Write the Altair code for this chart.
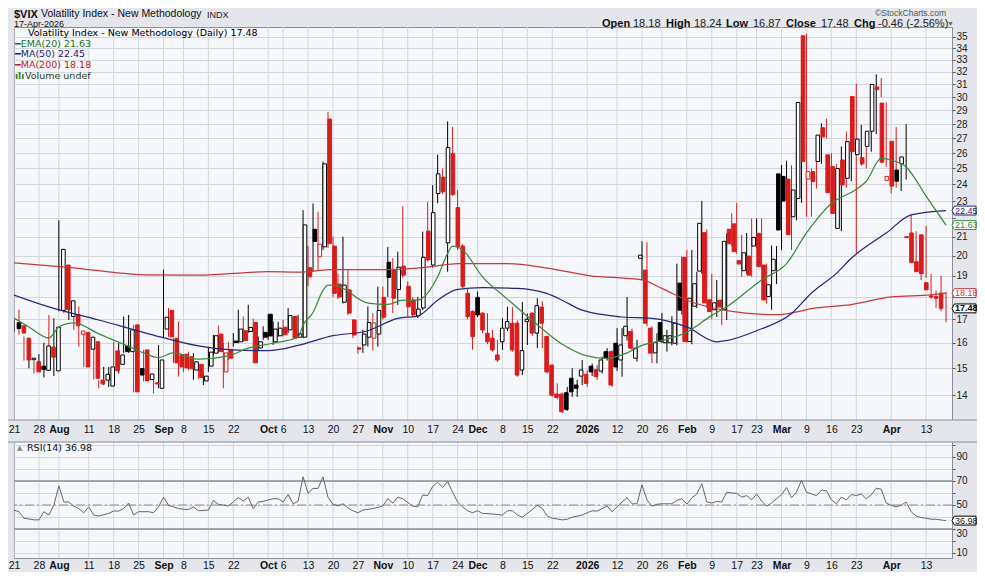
import altair as alt
import pandas as pd

# ---------------- data (daily OHLC, session index 0 = 21 Jul 2025) ----------------
OPEN = [16.85,16.72,16.20,15.33,15.25,15.08,14.92,15.83,14.90,17.39,
        19.53,17.12,17.19,16.36,16.44,15.75,16.05,14.55,14.55,14.33,
        15.68,15.15,15.88,15.65,16.76,14.99,15.72,14.57,14.45,14.25,
        16.58,17.39,16.19,15.52,15.55,15.45,14.93,15.15,14.52,15.08,
        15.59,16.37,14.86,15.72,16.08,16.05,16.51,16.48,16.86,15.80,
        16.44,17.22,16.05,16.30,16.66,16.55,17.12,16.24,16.24,19.40,
        21.40,19.95,20.46,28.37,20.50,18.60,17.76,18.33,16.97,15.80,
        15.92,16.24,16.20,16.37,17.98,19.67,19.28,18.34,19.48,18.50,
        17.86,17.15,17.50,21.30,19.53,23.45,24.45,20.67,25.96,22.62,
        20.50,18.17,17.34,17.98,17.27,16.40,16.20,15.52,16.05,16.62,
        16.83,16.83,14.93,16.90,17.27,16.41,17.54,16.27,15.12,14.04,
        14.04,14.09,14.62,14.37,14.70,14.77,15.08,14.95,14.89,15.65,
        15.65,15.99,15.32,16.30,16.48,15.39,19.87,19.28,16.62,15.60,
        16.86,16.01,16.01,15.99,18.65,19.92,16.06,17.58,19.23,21.22,
        17.87,17.42,17.85,17.42,21.40,21.70,19.75,19.25,19.98,20.50,
        21.18,19.53,18.02,19.25,24.66,24.50,24.33,22.10,23.16,35.10,
        24.33,24.80,25.45,27.75,25.89,25.12,21.45,25.55,24.38,30.05,
        25.90,25.70,26.45,27.50,30.80,29.55,24.25,26.80,24.90,25.30,
        21.00,21.20,19.70,21.10,18.67,18.05,18.02,18.18]
HIGH = [17.00,17.42,16.27,15.50,15.30,15.55,16.01,17.19,17.05,21.90,
        19.55,18.88,17.64,17.57,16.44,16.41,16.05,14.55,15.05,15.05,
        16.05,15.99,17.12,17.19,16.76,15.85,15.72,14.86,14.62,15.92,
        19.30,17.50,16.20,16.90,15.55,15.65,15.59,15.20,14.80,15.85,
        16.34,16.73,16.01,16.05,16.41,17.42,17.12,17.64,17.03,16.27,
        16.70,17.22,16.90,16.90,16.97,17.50,17.12,17.19,22.47,20.50,
        22.86,22.38,25.45,28.90,21.00,19.10,21.00,19.28,17.00,15.87,
        16.55,17.57,17.27,18.48,18.48,20.46,19.87,20.21,22.70,18.73,
        18.00,18.00,21.27,22.96,23.96,25.90,25.00,28.20,27.80,23.66,
        20.60,18.40,17.40,18.25,17.30,17.27,16.55,16.13,17.04,17.55,
        17.55,16.95,17.77,17.25,17.30,17.94,17.80,16.30,15.15,14.43,
        14.10,14.30,15.00,14.56,15.32,14.92,15.18,15.12,15.45,15.79,
        15.70,16.62,16.62,18.00,16.60,16.13,20.75,20.70,16.70,16.40,
        17.28,16.55,17.14,19.60,19.95,20.30,20.30,19.20,23.00,21.40,
        19.10,18.80,17.90,21.18,22.30,22.90,21.10,21.20,22.00,22.00,
        22.00,19.60,20.53,20.50,25.23,25.50,25.20,26.20,30.10,35.30,
        25.00,26.20,28.07,28.40,26.00,25.30,26.45,27.48,27.12,31.05,
        27.95,26.60,28.40,31.80,31.50,29.60,25.30,27.80,25.30,28.00,
        22.20,21.30,19.90,21.60,19.10,18.30,19.00,18.24]
LOW = [16.45,16.34,15.30,15.00,14.80,14.93,14.65,15.42,14.70,17.35,
       17.27,16.97,16.55,15.85,15.05,15.45,14.57,14.25,14.37,14.30,
       14.86,14.80,15.60,15.60,14.10,14.19,14.50,14.55,14.06,14.25,
       16.25,16.25,15.20,14.68,14.86,14.93,14.56,14.60,14.37,14.86,
       15.52,15.61,14.25,15.32,15.85,15.99,16.05,16.41,15.19,15.69,
       16.13,16.13,15.92,16.25,16.27,16.41,16.16,16.20,16.20,18.50,
       19.20,19.28,20.30,20.40,18.00,17.90,17.70,17.20,16.20,15.57,
       15.60,15.85,15.70,15.85,17.00,18.00,17.27,17.63,18.90,17.12,
       17.10,17.05,17.40,19.70,19.40,22.87,23.40,19.20,23.30,20.30,
       18.40,17.00,15.73,17.10,16.40,15.95,15.65,15.25,15.72,16.50,
       15.65,14.68,14.74,15.92,16.30,15.79,15.79,14.80,13.95,13.85,
       13.38,13.45,13.94,13.94,14.37,14.30,14.70,14.56,14.80,15.30,
       14.30,14.90,14.68,16.10,15.70,15.26,18.80,16.70,15.19,15.19,
       16.00,15.65,15.90,15.90,17.20,16.00,15.95,17.50,19.10,17.50,
       17.00,17.10,16.76,16.97,20.50,20.10,18.95,19.10,18.95,20.40,
       19.40,17.70,17.42,18.60,20.30,22.00,20.30,21.90,22.90,22.10,
       22.10,23.75,25.30,27.00,23.30,22.00,21.30,23.80,24.20,20.10,
       25.20,25.00,26.10,27.30,30.00,25.10,23.45,23.80,23.60,24.30,
       19.80,19.40,18.80,18.90,17.90,17.50,17.35,16.87]
CLOSE = [16.60,16.41,15.32,15.39,14.86,14.95,15.88,15.43,16.66,20.33,
         17.42,17.82,16.72,16.50,15.05,16.24,14.62,14.41,14.77,15.05,
         14.90,15.52,15.65,16.55,14.12,14.74,14.52,14.78,14.41,15.32,
         17.09,16.25,15.21,15.05,15.01,14.98,15.25,14.65,14.70,15.63,
         16.30,15.65,15.60,15.39,16.02,16.58,16.10,16.65,15.21,16.05,
         16.24,16.29,16.58,16.62,16.34,17.16,16.20,16.38,21.64,18.95,
         20.74,20.60,25.30,20.63,18.17,18.00,18.55,17.27,16.33,15.75,
         16.37,16.86,16.84,17.39,17.09,18.92,17.94,19.42,19.03,17.55,
         17.19,17.45,19.92,19.79,22.33,24.66,23.55,26.37,23.39,20.46,
         18.50,17.12,16.26,17.19,16.54,16.05,15.72,15.32,16.62,16.90,
         15.72,14.74,15.69,17.00,16.41,17.60,16.83,14.86,14.00,13.92,
         13.42,13.50,14.12,14.25,14.93,14.43,14.86,14.68,15.32,15.39,
         14.37,15.05,15.92,16.70,15.79,15.79,20.03,16.83,15.59,16.01,
         16.06,16.30,16.30,16.83,17.40,16.06,17.94,18.62,21.73,17.73,
         17.34,17.73,17.54,20.75,20.62,20.21,19.58,20.15,19.03,20.96,
         19.45,17.86,18.57,19.82,21.36,23.00,21.10,23.66,29.60,25.45,
         24.80,24.17,27.23,27.10,23.50,22.28,25.00,23.97,26.78,26.10,
         26.95,25.30,27.50,31.00,30.60,25.40,24.50,23.90,24.20,25.75,
         20.95,19.65,19.20,19.10,18.33,18.00,17.94,17.48]
PRIOR_CLOSE = 16.40

EMA20 = [(0,17.06),(3,16.67),(7,16.21),(9,16.67),(12,16.84),(17,16.38),(23,15.86),(26,15.60),
         (29,15.41),(32,15.60),(37,15.35),(43,15.48),(47,15.79),(52,15.99),(57,16.25),(58,16.75),
         (60,17.30),(62,18.30),(63,18.55),(65,18.50),(71,17.72),(75,17.66),(78,17.85),(81,17.85),
         (82,17.95),(85,18.95),(87,20.12),(88,20.50),(90,20.30),(94,18.95),(99,17.90),(104,16.95),
         (110,15.95),(115,15.48),(119,15.38),(123,15.60),(126,15.90),(130,16.10),(135,16.45),
         (140,17.17),(143,17.55),(150,18.80),(155,19.60),(159,21.20),(164,22.86),(169,23.70),
         (171,24.20),(174,25.65),(176,25.55),(179,25.10),(183,23.30),(187,21.63)]
MA50 = [(0,18.09),(7,17.55),(17,16.97),(27,16.38),(37,15.88),(44,15.72),(51,15.69),(57,15.90),
        (64,16.30),(71,16.51),(77,17.04),(81,17.14),(85,17.85),(89,18.35),(94,18.43),(101,18.40),
        (107,18.15),(110,17.85),(114,17.40),(122,17.10),(128,17.04),(135,16.67),(141,16.05),
        (143,16.10),(149,16.51),(156,17.25),(160,18.18),(165,19.12),(168,19.87),(175,21.20),
        (180,22.20),(187,22.45)]
MA200 = [(0,19.64),(11,19.42),(26,19.05),(37,19.03),(51,19.20),(57,19.18),(64,19.30),(74,19.30),
         (84,19.46),(89,19.60),(99,19.60),(107,19.38),(116,18.99),(121,18.91),(126,18.80),
         (130,18.40),(135,17.85),(144,17.35),(153,17.20),(161,17.50),(168,17.65),(176,18.00),
         (184,18.10),(187,18.18)]
RSI14 = [(0,45.7),(1,44.4),(2,39.0),(4,37.6),(5,37.6),(6,44.4),(7,41.6),(8,49.8),(9,66.0),(10,52.5),
         (11,52.5),(12,49.0),(13,47.0),(14,43.5),(15,48.4),(16,41.6),(17,40.8),(19,43.0),(20,45.0),(21,44.9),
         (22,47.0),(23,51.6),(24,41.6),(25,44.4),(27,44.4),(28,43.5),(29,48.4),(30,56.5),(31,49.8),(33,47.0),
         (34,46.5),(35,46.2),(36,48.4),(37,45.2),(39,45.7),(40,53.8),(41,50.6),(43,49.2),(44,52.5),(45,56.0),
         (46,53.3),(47,56.5),(48,47.0),(49,52.5),(50,53.0),(52,55.2),(53,55.2),(54,52.5),(55,58.7),(56,51.0),
         (57,53.0),(58,73.5),(59,59.7),(60,63.8),(61,63.8),(62,73.5),(63,56.5),(64,50.6),(65,49.2),(66,51.0),
         (67,47.6),(68,45.2),(69,43.5),(70,45.7),(72,47.0),(73,47.9),(74,49.2),(75,55.2),(76,51.6),(77,56.5),
         (78,55.2),(80,49.0),(81,48.4),(82,58.4),(83,57.8),(84,65.4),(85,69.0),(86,64.6),(87,69.5),(88,60.6),
         (89,52.5),(90,48.4),(91,45.2),(92,43.5),(93,45.2),(94,43.0),(96,42.5),(98,41.6),(99,45.2),(100,45.2),
         (101,41.6),(102,39.8),(103,43.0),(104,46.2),(105,49.8),(106,47.0),(107,40.8),(108,39.0),(110,37.6),(111,38.1),
         (112,39.8),(114,41.6),(115,43.5),(116,45.2),(117,44.9),(118,47.0),(119,49.0),(120,44.4),(121,48.4),(122,52.5),
         (123,56.0),(124,51.0),(125,51.0),(126,66.8),(127,54.3),(128,49.0),(129,50.6),(130,51.0),(132,51.0),(133,53.8),
         (134,55.2),(135,50.6),(136,56.0),(137,59.2),(138,67.8),(139,52.5),(140,51.6),(141,53.0),(142,52.5),(143,60.6),
         (144,60.0),(145,59.7),(146,56.5),(147,57.8),(148,54.3),(149,59.2),(150,53.3),(151,49.0),(152,51.6),(153,55.2),
         (154,58.7),(155,64.6),(156,56.0),(157,60.6),(158,70.5),(159,60.6),(160,59.2),(161,57.8),(162,62.4),(163,61.9),
         (164,54.3),(165,51.0),(166,56.5),(167,54.3),(168,58.7),(169,57.8),(170,59.2),(171,55.2),(172,58.4),(173,64.0),
         (174,63.2),(175,51.6),(176,49.8),(177,48.4),(178,49.8),(179,52.5),(180,44.4),(181,40.8),(182,39.5),(183,39.0),
         (184,38.1),(185,38.1),(186,37.5),(187,36.98)]

TICK_DAY = [0,5,9,15,20,25,30,34,39,44,51,54,59,64,69,74,79,84,89,93,98,103,108,115,121,126,130,
            135,140,145,149,154,159,164,169,176,183]
TICK_LABEL = ["21","28","Aug","11","18","25","Sep","8","15","22","Oct","6","13","20","27","Nov","10",
              "17","24","Dec","8","15","22","2026","12","20","26","Feb","9","17","23","Mar","9","16",
              "23","Apr","13"]
MONTH_LABELS = ["Aug","Sep","Oct","Nov","Dec","2026","Feb","Mar","Apr"]
PRICE_TICKS = list(range(14, 36))
PRICE_HIDDEN = [18, 22]
RSI_TICKS = list(range(10, 101, 10))
RSI_LEVELS = [30, 70]
RSI_MID = [50]

LAST_EMA, LAST_MA50, LAST_MA200, LAST_CLOSE, LAST_RSI = 21.63, 22.45, 18.18, 17.48, 36.98
QUOTE = [("Open", "18.18"), ("High", "18.24"), ("Low", "16.87"), ("Close", "17.48"), ("Chg", "-0.46 (-2.56%)")]

# ---------------- styling / layout ----------------
W, HM, GAP, HR = 938, 393, 22, 116          # price panel, date band, RSI panel (pixels)
H = HM + GAP + HR
BG, PLOT_BG, GRID, FRAME = "#e4e6eb", "#f6f7fa", "#d3d6dd", "#8a8e98"
RED, BLACK = "#d81c1c", "#000000"
C_EMA, C_MA50, C_MA200 = "#3c8a3c", "#26267c", "#c43a3a"
T_EMA, T_MA50, T_MA200 = "#267326", "#1d1d6b", "#c02222"
AXF, LGF = "Liberation Sans", "DejaVu Sans"
TAG_PATH = "M-1,0L-0.8,-0.37L1,-0.37L1,0.37L-0.8,0.37Z"
TAG_SIZE = 576
TAG_X = W + 12

xs = alt.Scale(domain=[0, 188.2], nice=False, zero=False)
ys = alt.Scale(type="log", domain=[13.14, 35.9], range=[HM, 0], nice=False)
rs = alt.Scale(domain=[5.8, 102.5], range=[H, HM + GAP], nice=False, zero=False)

tick_arr = "[" + ",".join(map(str, TICK_DAY)) + "]"
lab_arr = "[" + ",".join("'%s'" % s for s in TICK_LABEL) + "]"
month_arr = "[" + ",".join(str(d) for d, s in zip(TICK_DAY, TICK_LABEL) if s in MONTH_LABELS) + "]"


def date_axis(pad, offset, z):
    return alt.Axis(values=TICK_DAY, labelExpr=f"{lab_arr}[indexof({tick_arr}, datum.value)]",
                    orient="bottom", offset=offset, zindex=z,
                    grid=False, ticks=False, domain=False, title=None,
                    labelFont=AXF, labelFontSize=10.5, labelColor="#111",
                    labelFontWeight={"condition": {"test": f"indexof({month_arr}, datum.value) >= 0",
                                                   "value": "bold"}, "value": "normal"},
                    labelPadding=pad, labelOverlap=False, labelFlush=False, labelBound=False)


hidden = " || ".join(f"datum.value == {v}" for v in PRICE_HIDDEN)
yaxis = alt.Axis(orient="right", values=PRICE_TICKS, labelExpr=f"({hidden}) ? '' : datum.label",
                 format="d", grid=True, gridColor=GRID, tickSize=3, tickColor="#555", domain=False,
                 title=None, labelFont=AXF, labelFontSize=10, labelColor="#222", labelPadding=1,
                 labelFlush=False, labelOverlap=False)
raxis = alt.Axis(orient="right", values=RSI_TICKS, labelExpr="datum.value % 20 == 10 ? datum.label : ''",
                 grid=True, gridColor=GRID, tickSize=3, tickColor="#555", domain=False, title=None,
                 labelFont=AXF, labelFontSize=10, labelColor="#222", labelPadding=1,
                 labelBaseline={"condition": {"test": "datum.value == 30", "value": "top"}, "value": "middle"},
                 labelFlush=False, labelOverlap=False)

X0 = alt.X("day:Q", scale=xs, axis=None)
XMID = alt.X("day:Q", scale=xs, axis=date_axis(4, -(H - HM), 1))
XBOT = alt.X("day:Q", scale=xs, axis=date_axis(2, 0, 0))

# ---------------- grid + price panel ----------------
vgrid = alt.Chart(pd.DataFrame({"day": TICK_DAY})).mark_rule(color=GRID, strokeWidth=1).encode(x=XMID)

prev = [PRIOR_CLOSE] + CLOSE[:-1]
edge = [BLACK if c >= p else RED for c, p in zip(CLOSE, prev)]
face = ["#ffffff" if c > o else e for o, c, e in zip(OPEN, CLOSE, edge)]
candles = pd.DataFrame(dict(day=range(len(CLOSE)), open=OPEN, high=HIGH, low=LOW, close=CLOSE,
                            edge=edge, face=face))

wicks = alt.Chart(candles).mark_rule(strokeWidth=1, clip=True).encode(
    x=X0, y=alt.Y("low:Q", scale=ys, axis=yaxis), y2="high:Q", color=alt.Color("edge:N", scale=None))
bodies = alt.Chart(candles).mark_bar(width=3.6, strokeWidth=1, clip=True).encode(
    x=X0, y=alt.Y("open:Q", scale=ys, axis=None), y2="close:Q",
    fill=alt.Fill("face:N", scale=None), stroke=alt.Stroke("edge:N", scale=None))

ma = pd.DataFrame([(d, v, "MA(200)") for d, v in MA200] + [(d, v, "MA(50)") for d, v in MA50] +
                  [(d, v, "EMA(20)") for d, v in EMA20], columns=["day", "val", "series"])
lines = alt.Chart(ma).mark_line(strokeWidth=1.25, interpolate="monotone", clip=True).encode(
    x=X0, y=alt.Y("val:Q", scale=ys, axis=None),
    color=alt.Color("series:N", legend=None,
                    scale=alt.Scale(domain=["MA(200)", "MA(50)", "EMA(20)"], range=[C_MA200, C_MA50, C_EMA])))

tags = pd.DataFrame({"val": [LAST_MA50, LAST_EMA, LAST_MA200, LAST_CLOSE],
                     "txt": [f"{LAST_MA50:.2f}", f"{LAST_EMA:.2f}", f"{LAST_MA200:.2f}", f"{LAST_CLOSE:.2f}"],
                     "col": [C_MA50, C_EMA, C_MA200, BLACK], "bold": [False, False, False, True]})
tag_box = alt.Chart(tags).mark_point(shape=TAG_PATH, size=TAG_SIZE, opacity=1, strokeWidth=1).encode(
    x=alt.value(TAG_X), y=alt.Y("val:Q", scale=ys, axis=None),
    stroke=alt.Stroke("col:N", scale=None), fill=alt.value("#ffffff"))
tag_txt = alt.Chart(tags[~tags.bold]).mark_text(align="left", baseline="middle", font=AXF, fontSize=9).encode(
    x=alt.value(W + 3), y=alt.Y("val:Q", scale=ys, axis=None), text="txt:N",
    color=alt.Color("col:N", scale=None))
tag_bold = alt.Chart(tags[tags.bold]).mark_text(align="left", baseline="middle", font=AXF, fontSize=9,
                                                 fontWeight="bold").encode(
    x=alt.value(W + 3), y=alt.Y("val:Q", scale=ys, axis=None), text="txt:N",
    color=alt.Color("col:N", scale=None))

one = pd.DataFrame({"a": [0]})

# grey date band between the two panels (its top/bottom edges are the panel borders)
band = alt.Chart(one).mark_rect(color=BG, stroke=FRAME, strokeWidth=1).encode(
    x=alt.value(-8), x2=alt.value(W + 32), y=alt.value(HM), y2=alt.value(HM + GAP))


def label(txt, px, py, size=10, color="#111", font=AXF, weight="normal", align="left", baseline="middle"):
    return alt.Chart(one).mark_text(text=txt, align=align, baseline=baseline, font=font, fontSize=size,
                                    color=color, fontWeight=weight).encode(x=alt.value(px), y=alt.value(py))


header = [
    label("$VIX", 0, -18, 11, "#111", weight="bold", baseline="top"),
    label("Volatility Index - New Methodology", 27, -18, 10.5, "#111", baseline="top"),
    label("INDX", 193, -16.5, 9, "#222", baseline="top"),
    label("17-Apr-2026", 0, -0.5, 9, "#111", baseline="alphabetic"),
    label("\u00a9StockCharts.com", 932, -18, 8.5, "#555", align="right", baseline="top"),
]
qx = [(588, 619), (652, 680), (712, 739), (772, 807), (840, 864)]
for (k, v), (kx, vx) in zip(QUOTE, qx):
    header.append(label(k, kx, -0.5, 11, "#111", weight="bold", baseline="alphabetic"))
    header.append(label(v, vx, -0.5, 11, "#222", baseline="alphabetic"))
header.append(label("\u25bc", 933, -1.5, 7, "#667", baseline="alphabetic"))

legend = [
    label("Volatility Index - New Methodology (Daily) %.2f" % LAST_CLOSE, 14, 6, 9.5, "#000", LGF),
    label("\u2501EMA(20) %.2f" % LAST_EMA, 1, 17, 9.5, T_EMA, LGF),
    label("\u2501MA(50) %.2f" % LAST_MA50, 1, 27, 9.5, T_MA50, LGF),
    label("\u2501MA(200) %.2f" % LAST_MA200, 1, 38, 9.5, T_MA200, LGF),
    label("\u0131l\u0131", 1, 49, 9, "#2e7d32", LGF, "bold"),
    label("Volume undef", 11, 49, 9.5, "#1f3f1f", LGF),
]

# ---------------- RSI panel ----------------
rsi_df = pd.DataFrame(RSI14, columns=["day", "rsi"])
levels = alt.Chart(pd.DataFrame({"lvl": RSI_LEVELS})).mark_rule(color="#8b8e96", strokeWidth=1.5).encode(
    y=alt.Y("lvl:Q", scale=rs, axis=None))
mid = alt.Chart(pd.DataFrame({"lvl": RSI_MID})).mark_rule(color="#8b8e96", strokeWidth=1.2,
                                                          strokeDash=[9, 3, 2, 3]).encode(
    y=alt.Y("lvl:Q", scale=rs, axis=None))
rsi_line = alt.Chart(rsi_df).mark_line(color="#65656b", strokeWidth=1, clip=True).encode(
    x=XBOT, y=alt.Y("rsi:Q", scale=rs, axis=raxis))
rtag = pd.DataFrame({"val": [LAST_RSI], "txt": [f"{LAST_RSI:.2f}"]})
rtag_box = alt.Chart(rtag).mark_point(shape=TAG_PATH, size=TAG_SIZE, opacity=1, strokeWidth=1,
                                      color=BLACK).encode(
    x=alt.value(TAG_X), y=alt.Y("val:Q", scale=rs, axis=None), fill=alt.value("#ffffff"))
rtag_txt = alt.Chart(rtag).mark_text(align="left", baseline="middle", font=AXF, fontSize=9,
                                     color="#111").encode(
    x=alt.value(W + 3), y=alt.Y("val:Q", scale=rs, axis=None), text="txt:N")
rsi_legend = [
    label("\u25b2", 3, HM + GAP + 6, 7, "#7a8a7a", LGF),
    label("RSI(14) %.2f" % LAST_RSI, 13, HM + GAP + 6, 9.5, "#111", LGF),
]

chart = alt.layer(
    vgrid, wicks, bodies, lines, band, levels, mid, rsi_line,
    tag_box, tag_txt, tag_bold, rtag_box, rtag_txt, *header, *legend, *rsi_legend
).resolve_scale(x="independent", y="independent").resolve_axis(x="independent", y="independent").properties(
    width=W, height=H, autosize=alt.AutoSizeParams(type="none"),
    padding={"left": 6, "top": 19, "right": 25, "bottom": 14}
).configure(background=BG, font=AXF).configure_view(fill=PLOT_BG, stroke=FRAME, strokeWidth=1)

chart.save("out.html", embed_options={"renderer": "svg", "actions": False})
